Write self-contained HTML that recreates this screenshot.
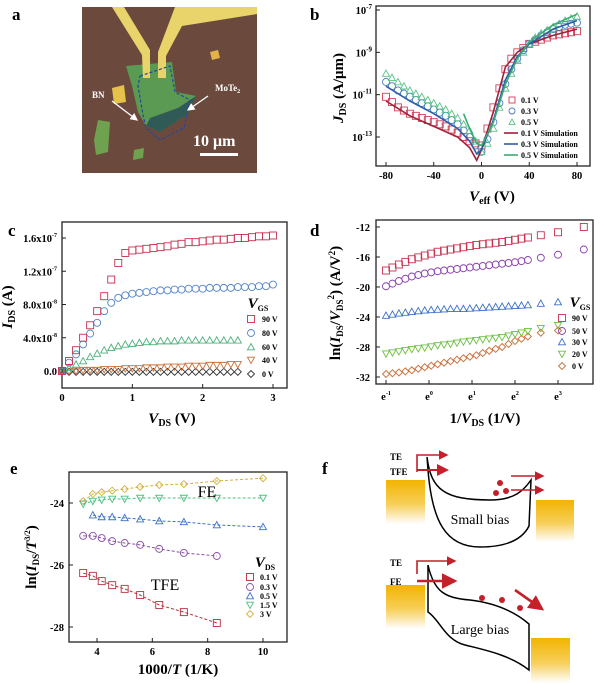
<!DOCTYPE html>
<html><head><meta charset="utf-8"><style>
html,body{margin:0;padding:0;background:#fff;}
svg{display:block;font-family:"Liberation Serif",serif;}
.tk{font-size:10.5px;font-weight:bold;}
.lg{font-size:8px;font-weight:bold;}
.pl{font-size:17px;font-weight:bold;}
.ti{font-size:15px;font-weight:bold;}
</style></head><body>
<svg id="fig" width="600" height="683" viewBox="0 0 600 683" xmlns="http://www.w3.org/2000/svg">
<defs>
<linearGradient id="gold" x1="0" y1="0" x2="0" y2="1"><stop offset="0" stop-color="#f2b400"/><stop offset="0.55" stop-color="#f7cf5a"/><stop offset="1" stop-color="#fff"/></linearGradient>
<marker id="ah" markerWidth="6" markerHeight="6" refX="5" refY="3" orient="auto"><path d="M0,0 L6,3 L0,6 z" fill="#c4202a"/></marker>
<marker id="aw" markerWidth="6" markerHeight="6" refX="5" refY="3" orient="auto"><path d="M0,0 L6,3 L0,6 z" fill="#fff"/></marker>
</defs>
<g>
<text class="pl" x="12" y="20">a</text>
<rect x="82" y="7" width="175" height="166" fill="#6b4a3d"/>
<polygon points="98,120 110,122 108,152 96,155 94,140" fill="#6fa24f"/>
<polygon points="134,150 144,148 143,158 133,160" fill="#6fa24f"/>
<polygon points="126,66 172,62 176,92 196,96 188,114 160,132 146,126 138,112 132,86" fill="#5a9a52"/>
<polygon points="146,126 160,132 188,114 196,96 178,108 150,118" fill="#2f5a55"/>
<polygon points="112,88 124,85 126,102 114,104" fill="#e5c24a"/>
<polygon points="210,52 218,50 220,58 212,60" fill="#e5b24a"/>
<polygon points="112,7 124,7 150,50 150,78 143,78 142,55" fill="#e8d46a"/>
<polygon points="175,7 257,7 257,14 182,26 166,56 166,78 158,78 158,52" fill="#e8d46a"/>
<polyline points="140,76 170,66 175,92 190,100 184,128 160,140 146,128 143,115 138,86 140,76" fill="none" stroke="#2048a0" stroke-width="1.2" stroke-dasharray="3,2"/>
<line x1="112" y1="101" x2="137" y2="120" stroke="#fff" stroke-width="1.3" marker-end="url(#aw)"/>
<line x1="208" y1="96" x2="188" y2="110" stroke="#fff" stroke-width="1.3" marker-end="url(#aw)"/>
<text x="92" y="98" fill="#fff" font-size="9" font-weight="bold">BN</text>
<text x="215" y="91" fill="#fff" font-size="9" font-weight="bold">MoTe<tspan font-size="6" dy="2">2</tspan></text>
<text x="193" y="146" fill="#fff" font-size="16" font-weight="bold">10 μm</text>
<rect x="200" y="153" width="38" height="3" fill="#fff"/>
</g>
<g>
<text class="pl" x="322" y="474">f</text>
<rect x="386" y="480" width="39" height="44" fill="url(#gold)"/>
<rect x="536" y="500" width="38" height="42" fill="url(#gold)"/>
<path d="M427,457 C431,490 445,500 490,500 C515,500 524,490 531,480 L529,526 C522,540 505,547 480,547 C445,547 432,520 428,470 Z" fill="none" stroke="#000" stroke-width="1.5"/>
<text x="480" y="524" font-size="14" text-anchor="middle">Small bias</text>
<text x="390" y="460" font-size="9" font-weight="bold">TE</text>
<text x="390" y="475" font-size="9" font-weight="bold">TFE</text>
<polyline points="417,472 417,455 447,455" fill="none" stroke="#c4202a" stroke-width="1.6" marker-end="url(#ah)"/>
<line x1="417" y1="470" x2="447" y2="470" stroke="#c4202a" stroke-width="2" marker-end="url(#ah)"/>
<line x1="511" y1="476" x2="543" y2="476" stroke="#c4202a" stroke-width="1.6" marker-end="url(#ah)"/>
<line x1="511" y1="490" x2="543" y2="490" stroke="#c4202a" stroke-width="1.6" marker-end="url(#ah)"/>
<circle cx="500" cy="483" r="3" fill="#c4202a"/>
<circle cx="496" cy="493" r="3" fill="#c4202a"/>
<circle cx="506" cy="491" r="3" fill="#c4202a"/>
<rect x="386" y="585" width="39" height="44" fill="url(#gold)"/>
<rect x="531" y="638" width="39" height="45" fill="url(#gold)"/>
<path d="M428,565 C434,592 445,598 470,600 C495,603 515,612 529,624 L529,670 C510,655 485,650 465,645 C445,640 440,620 428,612 Z" fill="none" stroke="#000" stroke-width="1.5"/>
<text x="480" y="634" font-size="14" text-anchor="middle">Large bias</text>
<text x="390" y="566" font-size="9" font-weight="bold">TE</text>
<text x="390" y="585" font-size="9" font-weight="bold">FE</text>
<polyline points="417,574 417,561 455,561" fill="none" stroke="#c4202a" stroke-width="1.6" marker-end="url(#ah)"/>
<line x1="417" y1="581" x2="455" y2="581" stroke="#c4202a" stroke-width="2.6" marker-end="url(#ah)"/>
<line x1="515" y1="590" x2="542" y2="609" stroke="#c4202a" stroke-width="2.6" marker-end="url(#ah)"/>
<circle cx="482" cy="598" r="3" fill="#c4202a"/>
<circle cx="502" cy="600" r="3" fill="#c4202a"/>
<circle cx="520" cy="608" r="3" fill="#c4202a"/>
</g>
</svg>
<script>
const NS='http://www.w3.org/2000/svg';
const fig=document.getElementById('fig');
// ---- panel b data ----
const bX=[-80,-75,-70,-65,-60,-55,-50,-45,-40,-35,-30,-25,-20,-15,-10,-5,0,5,10,15,20,25,30,35,40,45,50,55,60,65,70,75,80];
const bRed=[-11.1,-11.35,-11.6,-11.75,-11.9,-12.0,-12.1,-12.2,-12.3,-12.4,-12.5,-12.65,-12.8,-13.0,-13.2,-13.3,-13.4,-12.6,-11.6,-10.7,-9.8,-9.3,-9.0,-8.8,-8.6,-8.5,-8.4,-8.3,-8.2,-8.15,-8.1,-8.05,-8.0];
const bBlue=[-10.4,-10.6,-10.8,-10.95,-11.1,-11.25,-11.4,-11.55,-11.7,-11.85,-12.0,-12.2,-12.4,-12.7,-13.0,-13.4,-13.7,-13.1,-12.3,-11.4,-10.5,-9.8,-9.3,-8.9,-8.6,-8.4,-8.2,-8.05,-7.9,-7.8,-7.7,-7.65,-7.6];
const bGreen=[-10.0,-10.2,-10.4,-10.6,-10.8,-10.95,-11.1,-11.25,-11.4,-11.55,-11.7,-11.9,-12.1,-12.4,-12.7,-13.2,-13.7,-13.3,-12.6,-11.6,-10.7,-10.0,-9.4,-9.0,-8.6,-8.3,-8.1,-7.95,-7.8,-7.65,-7.5,-7.4,-7.3];
const bSimX=[-80,-60,-40,-20,-10,-4,0,10,20,30,40,60,80];
const bRedSim=[-11.3,-12.0,-12.5,-13.0,-13.5,-14.1,-13.6,-11.8,-9.7,-9.0,-8.6,-8.2,-7.9];
const bBlueSim=[-10.6,-11.3,-11.9,-12.6,-13.2,-13.8,-13.6,-12.2,-10.3,-9.2,-8.6,-7.9,-7.5];
const bGreenSimX=[-15,-10,-4,0,10,20,30,40,60,80];
const bGreenSim=[-11.9,-12.6,-13.3,-13.4,-12.3,-10.5,-9.3,-8.5,-7.7,-7.2];
const bXTicks=[-80,-40,0,40,80];
const bYTicks=[-7,-9,-11,-13];
// ---- panel c data ----
const cX=[0,0.1,0.2,0.3,0.4,0.5,0.6,0.7,0.8,0.9,1.0,1.1,1.2,1.3,1.4,1.5,1.6,1.7,1.8,1.9,2.0,2.1,2.2,2.3,2.4,2.5,2.6,2.7,2.8,2.9,3.0];
const c90=[0,0.12,0.25,0.4,0.55,0.72,0.9,1.1,1.3,1.42,1.45,1.46,1.47,1.48,1.49,1.5,1.52,1.53,1.55,1.55,1.56,1.57,1.58,1.58,1.59,1.6,1.6,1.61,1.62,1.62,1.63];
const c80=[0,0.1,0.2,0.32,0.45,0.58,0.72,0.82,0.88,0.91,0.93,0.94,0.95,0.96,0.97,0.97,0.98,0.98,0.99,0.99,0.99,1.0,1.0,1.0,1.0,1.01,1.01,1.01,1.02,1.02,1.04];
const c60=[0,0.04,0.08,0.12,0.17,0.21,0.25,0.28,0.3,0.32,0.33,0.34,0.35,0.35,0.36,0.36,0.36,0.37,0.37,0.37,0.37,0.37,0.37,0.37,0.37,0.37];
const c40=[0,0,0,0.01,0.01,0.01,0.02,0.02,0.02,0.03,0.03,0.03,0.04,0.04,0.04,0.05,0.05,0.05,0.06,0.06,0.06,0.07,0.07,0.07,0.08,0.08];
const c0=[0,-0.01,-0.01,-0.01,-0.01,-0.01,-0.01,-0.01,-0.01,-0.01,-0.01,-0.01,-0.01,-0.01,-0.01,-0.01,-0.01,-0.01,-0.01,-0.01,-0.01,-0.01,-0.01,-0.01,-0.01,-0.01];
const cXTicks=[0,1,2,3];
const cYTicks=[0,0.4,0.8,1.2,1.6];
const cYLabels=[['0.0',''],['4.0x10','-8'],['8.0x10','-8'],['1.2x10','-7'],['1.6x10','-7']];
// ---- panel d data ----
const dX=[-1,-0.85,-0.7,-0.55,-0.4,-0.25,-0.1,0.05,0.2,0.35,0.5,0.65,0.8,0.95,1.1,1.25,1.4,1.55,1.7,1.85,2.0,2.15,2.3,2.6,3.0,3.6];
const d90=[-17.8,-17.4,-17.0,-16.65,-16.3,-16.05,-15.8,-15.55,-15.3,-15.15,-15.0,-14.85,-14.7,-14.55,-14.4,-14.3,-14.2,-14.1,-14.0,-13.85,-13.7,-13.55,-13.4,-13.1,-12.7,-12.0];
const d50=[-19.9,-19.55,-19.2,-18.9,-18.6,-18.4,-18.2,-18.05,-17.9,-17.8,-17.7,-17.6,-17.5,-17.4,-17.3,-17.2,-17.1,-17.0,-16.9,-16.8,-16.7,-16.55,-16.4,-16.1,-15.7,-15.0];
const d30=[-23.8,-23.65,-23.5,-23.4,-23.3,-23.2,-23.1,-23.05,-23.0,-22.95,-22.9,-22.9,-22.9,-22.85,-22.8,-22.75,-22.7,-22.65,-22.6,-22.55,-22.5,-22.45,-22.4,-22.2,-22.0];
const d20=[-28.9,-28.75,-28.6,-28.45,-28.3,-28.2,-28.1,-27.95,-27.8,-27.7,-27.6,-27.45,-27.3,-27.2,-27.1,-27.0,-26.9,-26.8,-26.7,-26.5,-26.3,-26.1,-25.9,-25.5,-25.1];
const d0=[-31.6,-31.5,-31.4,-31.25,-31.1,-30.9,-30.7,-30.5,-30.3,-30.1,-29.9,-29.7,-29.5,-29.3,-29.1,-28.8,-28.5,-28.25,-28.0,-27.6,-27.2,-26.9,-26.6,-26.1,-25.8];
const dXTicks=[-1,0,1,2,3];
const dYTicks=[-12,-16,-20,-24,-28,-32];
// ---- panel e data ----
const eX=[3.5,3.85,4.17,4.55,5,5.56,6.25,7.14,8.33,10];
const e3=[-23.94,-23.71,-23.65,-23.6,-23.55,-23.48,-23.42,-23.39,-23.29,-23.2];
const e15=[-24.03,-23.94,-23.9,-23.87,-23.87,-23.84,-23.84,-23.84,-23.84,-23.84];
const e05X=[3.85,4.17,4.55,5,5.56,6.25,7.14,8.33,10];
const e05=[-24.39,-24.45,-24.45,-24.48,-24.52,-24.58,-24.61,-24.71,-24.77];
const eLowX=[3.5,3.85,4.17,4.55,5,5.56,6.25,7.14,8.33];
const e03=[-25.06,-25.06,-25.13,-25.23,-25.29,-25.35,-25.48,-25.61,-25.71];
const e01=[-26.26,-26.35,-26.52,-26.65,-26.77,-26.97,-27.29,-27.52,-27.87];
const eXTicks=[4,6,8,10];
const eYTicks=[-24,-26,-28];

function mk(tag,attrs,parent){const e=document.createElementNS(NS,tag);for(const k in attrs)e.setAttribute(k,attrs[k]);(parent||fig).appendChild(e);return e;}
function lin(d0,d1,p0,p1){return v=>p0+(v-d0)*(p1-p0)/(d1-d0);}
function marker(shape,x,y,s,col,parent,name){
  let e;const h=s/2;
  if(shape==='sq')e=mk('rect',{x:x-h,y:y-h,width:s,height:s},parent);
  else if(shape==='ci')e=mk('circle',{cx:x,cy:y,r:h},parent);
  else if(shape==='tu')e=mk('polygon',{points:`${x-h},${y+h*0.8} ${x+h},${y+h*0.8} ${x},${y-h}`},parent);
  else if(shape==='td')e=mk('polygon',{points:`${x-h},${y-h*0.8} ${x+h},${y-h*0.8} ${x},${y+h}`},parent);
  else e=mk('polygon',{points:`${x},${y-h} ${x+h},${y} ${x},${y+h} ${x-h},${y}`},parent);
  e.setAttribute('fill','none');e.setAttribute('stroke',col);e.setAttribute('stroke-width','0.9');
  
  
  return e;
}
function series(xs,ys,sx,sy,shape,s,col,name,parent){
  const g=mk('g',{},parent);
  
  
  for(let i=0;i<ys.length;i++){if(ys[i]==null)continue;marker(shape,sx(xs[i]),sy(ys[i]),s,col,g,name+'-point');}
  return g;
}
function line(xs,ys,sx,sy,col,w,dash,name,parent){
  const pts=[];for(let i=0;i<ys.length;i++)pts.push(sx(xs[i]).toFixed(1)+','+sy(ys[i]).toFixed(1));
  const e=mk('polyline',{points:pts.join(' '),fill:'none',stroke:col,'stroke-width':w},parent);
  if(dash)e.setAttribute('stroke-dasharray',dash);
  
  
}
function frame(x0,y0,x1,y1,name,parent){
  const e=mk('rect',{x:x0,y:y0,width:x1-x0,height:y1-y0,fill:'none',stroke:'#222','stroke-width':1.3},parent);
  
  
}
function txt(x,y,s,cls,anchor,parent,name,extra){
  const e=mk('text',{x:x,y:y,'text-anchor':anchor||'start'},parent);
  if(cls)e.setAttribute('class',cls);
  for(const k in (extra||{}))e.setAttribute(k,extra[k]);
  e.innerHTML=s;
  
  
  return e;
}
function xtick(x,y,parent){mk('line',{x1:x,y1:y,x2:x,y2:y-4,stroke:'#222','stroke-width':1},parent);}
function ytick(x,y,parent){mk('line',{x1:x,y1:y,x2:x+4,y2:y,stroke:'#222','stroke-width':1},parent);}

// ===== panel b =====
(function(){
  const g=mk('g',{});
  
  
  txt(310,20,'b','pl','start',g,'panel-label-b');
  const sx=lin(-80,80,386,577), sy=lin(-7,-13,10,137);
  frame(376,6,590,166,'plot-frame-b',g);
  bXTicks.forEach(v=>{xtick(sx(v),166,g);txt(sx(v),179,v,'tk','middle',g,'x-tick-label');});
  bYTicks.forEach(v=>{ytick(376,sy(v),g);txt(372,sy(v)+4,'10<tspan font-size="7" dy="-5">'+v+'</tspan>','tk','end',g,'y-tick-label');});
  series(bX,bRed,sx,sy,'sq',7,'#d0405a','series-0.1v',g);
  series(bX,bBlue,sx,sy,'ci',7,'#4a7cc0','series-0.3v',g);
  series(bX,bGreen,sx,sy,'tu',7,'#5cc08a','series-0.5v',g);
  line(bSimX,bRedSim,sx,sy,'#a0203a',1.6,null,'sim-0.1v',g);
  line(bSimX,bBlueSim,sx,sy,'#2d5fa8',1.6,null,'sim-0.3v',g);
  line(bGreenSimX,bGreenSim,sx,sy,'#3aaa70',1.6,null,'sim-0.5v',g);
  const lx=512, ly=[100,111,122,133,144,155];
  marker('sq',lx,ly[0],6,'#d0405a',g,'legend-marker');
  marker('ci',lx,ly[1],6,'#4a7cc0',g,'legend-marker');
  marker('tu',lx,ly[2],6,'#5cc08a',g,'legend-marker');
  [['#a0203a',3],['#2d5fa8',4],['#3aaa70',5]].forEach(a=>{const l=mk('line',{x1:lx-8,x2:lx+6,y1:ly[a[1]],y2:ly[a[1]],stroke:a[0],'stroke-width':1.6},g);});
  ['0.1 V','0.3 V','0.5 V','0.1 V Simulation','0.3 V Simulation','0.5 V Simulation'].forEach((t,i)=>txt(lx+9,ly[i]+3,t,'lg','start',g,'legend-entry'));
  txt(343,88,'<tspan font-style="italic">J</tspan><tspan font-size="10" dy="3">DS</tspan><tspan dy="-3"> (A/μm)</tspan>','ti','middle',g,'y-axis-title-b',{transform:'rotate(-90 343 88)'});
  txt(492,201,'<tspan font-style="italic">V</tspan><tspan font-size="10" dy="3">eff</tspan><tspan dy="-3"> (V)</tspan>','ti','middle',g,'x-axis-title-b');
})();
// ===== panel c =====
(function(){
  const g=mk('g',{});
  
  
  txt(8,236,'c','pl','start',g,'panel-label-c');
  const sx=lin(0,3,62,273), sy=lin(0,1.6,371,238);
  frame(62,222,287,388,'plot-frame-c',g);
  cXTicks.forEach(v=>{xtick(sx(v),388,g);txt(sx(v),401,v,'tk','middle',g,'x-tick-label');});
  cYTicks.forEach((v,i)=>{ytick(62,sy(v),g);txt(57,sy(v)+4,cYLabels[i][0]+'<tspan font-size="6" dy="-5">'+cYLabels[i][1]+'</tspan>','tk','end',g,'y-tick-label');});
  series(cX,c0,sx,sy,'di',7,'#333','series-0v',g);
  series(cX,c40,sx,sy,'td',7,'#c8703a','series-40v',g);
  series(cX,c60,sx,sy,'tu',7,'#4cb07a','series-60v',g);
  series(cX,c80,sx,sy,'ci',7,'#5585c8','series-80v',g);
  series(cX,c90,sx,sy,'sq',7,'#c83050','series-90v',g);
  txt(258,308,'<tspan font-style="italic">V</tspan><tspan font-size="8" dy="3">GS</tspan>','ti','middle',g,'legend-title-c',{'font-size':'13'});
  const ly=[319,333,347,360,374], cols=['#c83050','#5585c8','#4cb07a','#c8703a','#333'], sh=['sq','ci','tu','td','di'], lb=['90 V','80 V','60 V','40 V','0 V'];
  ly.forEach((y,i)=>{marker(sh[i],251,y,7,cols[i],g,'legend-marker');txt(262,y+3,lb[i],'lg','start',g,'legend-entry');});
  txt(10,305,'<tspan font-style="italic">I</tspan><tspan font-size="10" dy="3">DS</tspan><tspan dy="-3"> (A)</tspan>','ti','middle',g,'y-axis-title-c',{transform:'rotate(-90 12 305)'});
  txt(172,423,'<tspan font-style="italic">V</tspan><tspan font-size="10" dy="3">DS</tspan><tspan dy="-3"> (V)</tspan>','ti','middle',g,'x-axis-title-c');
})();
// ===== panel d =====
(function(){
  const g=mk('g',{});
  
  
  txt(310,236,'d','pl','start',g,'panel-label-d');
  const sx=lin(-1,3,386,558), sy=lin(-12,-32,227,377);
  frame(376,220,593,384,'plot-frame-d',g);
  dXTicks.forEach(v=>{xtick(sx(v),384,g);txt(sx(v),400,'e<tspan font-size="6" dy="-5">'+v+'</tspan>','tk','middle',g,'x-tick-label');});
  dYTicks.forEach(v=>{ytick(376,sy(v),g);txt(370,sy(v)+4,v,'tk','end',g,'y-tick-label');});
  series(dX,d0,sx,sy,'di',7,'#c8703a','series-0v',g);
  series(dX,d20,sx,sy,'td',7,'#6cc040','series-20v',g);
  series(dX,d30,sx,sy,'tu',7,'#3a70c8','series-30v',g);
  series(dX,d50,sx,sy,'ci',7,'#8a40b0','series-50v',g);
  series(dX,d90,sx,sy,'sq',7,'#c83050','series-90v',g);
  txt(580,307,'<tspan font-style="italic">V</tspan><tspan font-size="8" dy="3">GS</tspan>','ti','middle',g,'legend-title-d',{'font-size':'13'});
  const ly=[318,331,342,354,366], cols=['#c83050','#8a40b0','#3a70c8','#6cc040','#c8703a'], sh=['sq','ci','tu','td','di'], lb=['90 V','50 V','30 V','20 V','0 V'];
  ly.forEach((y,i)=>{marker(sh[i],562,y,7,cols[i],g,'legend-marker');txt(572,y+3,lb[i],'lg','start',g,'legend-entry');});
  txt(340,303,'ln(<tspan font-style="italic">I</tspan><tspan font-size="9" dy="3">DS</tspan><tspan dy="-3">/</tspan><tspan font-style="italic">V</tspan><tspan font-size="9" dy="3">DS</tspan><tspan font-size="9" dy="-9">2</tspan><tspan dy="6">) (A/V</tspan><tspan font-size="9" dy="-5">2</tspan><tspan dy="5">)</tspan>','ti','middle',g,'y-axis-title-d',{transform:'rotate(-90 340 303)'});
  txt(485,423,'1/<tspan font-style="italic">V</tspan><tspan font-size="10" dy="3">DS</tspan><tspan dy="-3"> (1/V)</tspan>','ti','middle',g,'x-axis-title-d');
})();
// ===== panel e =====
(function(){
  const g=mk('g',{});
  
  
  txt(10,474,'e','pl','start',g,'panel-label-e');
  const sx=lin(4,10,97,263), sy=lin(-24,-28,503,627);
  frame(69,472,287,642,'plot-frame-e',g);
  eXTicks.forEach(v=>{xtick(sx(v),642,g);txt(sx(v),655,v,'tk','middle',g,'x-tick-label');});
  eYTicks.forEach(v=>{ytick(69,sy(v),g);txt(64,sy(v)+4,v,'tk','end',g,'y-tick-label');});
  const S=[[eX,e3,'di','#d4b040','3v'],[eX,e15,'td','#4cc080','1.5v'],[e05X,e05,'tu','#3a70c8','0.5v'],[eLowX,e03,'ci','#8a50a8','0.3v'],[eLowX,e01,'sq','#b83040','0.1v']];
  S.forEach(s=>{line(s[0],s[1],sx,sy,s[3],1,'3,2','fit-'+s[4],g);series(s[0],s[1],sx,sy,s[2],7,s[3],'series-'+s[4],g);});
  txt(207,497,'FE','','middle',g,'fe-annotation',{'font-size':'16'});
  txt(165,590,'TFE','','middle',g,'tfe-annotation',{'font-size':'16'});
  txt(265,567,'<tspan font-style="italic">V</tspan><tspan font-size="8" dy="3">DS</tspan>','ti','middle',g,'legend-title-e',{'font-size':'13'});
  const ly=[577,587,596,605,614], cols=['#b83040','#8a50a8','#3a70c8','#4cc080','#d4b040'], sh=['sq','ci','tu','td','di'], lb=['0.1 V','0.3 V','0.5 V','1.5 V','3 V'];
  ly.forEach((y,i)=>{marker(sh[i],250,y,7,cols[i],g,'legend-marker');txt(260,y+3,lb[i],'lg','start',g,'legend-entry');});
  txt(36,557,'ln(<tspan font-style="italic">I</tspan><tspan font-size="9" dy="3">DS</tspan><tspan dy="-3">/</tspan><tspan font-style="italic">T</tspan><tspan font-size="8" dy="-6">3/2</tspan><tspan dy="6">)</tspan>','ti','middle',g,'y-axis-title-e',{transform:'rotate(-90 36 557)'});
  txt(178,674,'1000/<tspan font-style="italic">T</tspan> (1/K)','ti','middle',g,'x-axis-title-e');
})();
</script>
</body></html>
